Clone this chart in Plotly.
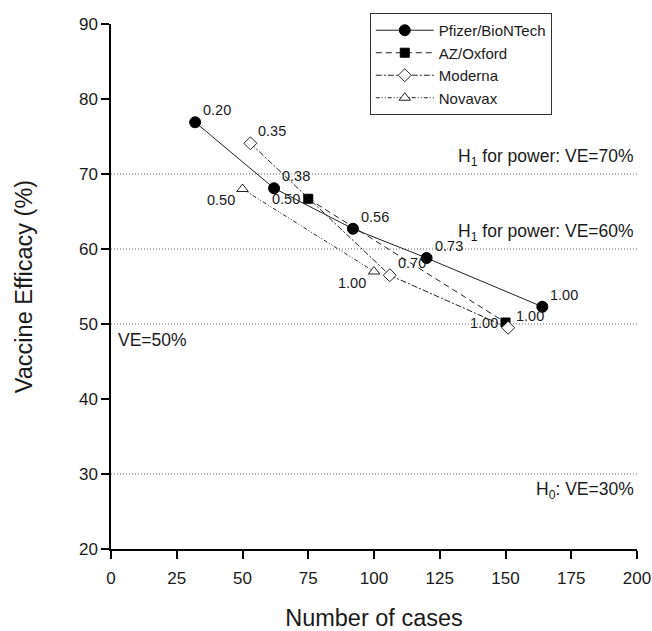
import plotly.graph_objects as go

# ---- data ----
pfizer_cases = [32, 62, 92, 120, 164]
pfizer_ve = [76.9, 68.1, 62.7, 58.8, 52.3]
pfizer_labels = ["0.20", "0.38", "0.56", "0.73", "1.00"]

az_cases = [75, 150]
az_ve = [66.7, 50.2]
az_labels = ["0.50", "1.00"]

moderna_cases = [53, 106, 151]
moderna_ve = [74.1, 56.5, 49.5]
moderna_labels = ["0.35", "0.70", "1.00"]

novavax_cases = [50, 100]
novavax_ve = [68.0, 57.0]
novavax_labels = ["0.50", "1.00"]

ref_lines = [70, 60, 50, 30]
ref_texts = ["H<sub>1</sub> for power: VE=70%", "H<sub>1</sub> for power: VE=60%", "VE=50%", "H<sub>0</sub>: VE=30%"]

x_ticks = [0, 25, 50, 75, 100, 125, 150, 175, 200]
y_ticks = [20, 30, 40, 50, 60, 70, 80, 90]

FONT = "Liberation Sans, Arial, sans-serif"
LINE = "#222222"
TXT = "#1a1a1a"

fig = go.Figure()

series = [
    ("Pfizer/BioNTech", pfizer_cases, pfizer_ve, "solid", dict(symbol="circle", size=11, color="black", line=dict(color="black", width=1))),
    ("AZ/Oxford", az_cases, az_ve, "6px,4px", dict(symbol="square", size=9, color="black", line=dict(color="black", width=1))),
    ("Moderna", moderna_cases, moderna_ve, "6px,2px,2px,2px", dict(symbol="diamond", size=10, color="white", line=dict(color="#222", width=1))),
    ("Novavax", novavax_cases, novavax_ve, "4px,2px,1px,2px,1px,2px", dict(symbol="triangle-up", size=10, color="white", line=dict(color="#222", width=1))),
]
for name, xs, ys, dash, mk in series:
    fig.add_trace(go.Scatter(x=xs, y=ys, name=name, mode="lines+markers",
                             line=dict(color=LINE, width=1, dash=dash), marker=mk))

annotations = []
label_sets = [
    (pfizer_cases, pfizer_ve, pfizer_labels, 22, 12),
    (az_cases, az_ve, az_labels, -22, 0),
    (moderna_cases, moderna_ve, moderna_labels, 22, 12),
    (novavax_cases, novavax_ve, novavax_labels, -22, -11),
]
for xs, ys, labs, dx, dy in label_sets:
    for x, y, t in zip(xs, ys, labs):
        annotations.append(dict(x=x, y=y, text=t, showarrow=False, xshift=dx, yshift=dy,
                                xanchor="center", yanchor="middle",
                                font=dict(family=FONT, size=14.5, color=TXT)))

shapes = []
for v in ref_lines:
    shapes.append(dict(type="line", xref="x", yref="y", x0=0, x1=200, y0=v, y1=v,
                       line=dict(color="#666", width=1, dash="1px,2px"), layer="below"))

ref_font = dict(family=FONT, size=17.5, color=TXT)
annotations.append(dict(x=199.5, y=70, text=ref_texts[0], showarrow=False, xanchor="right", yanchor="middle",
                        yshift=17, font=ref_font))
annotations.append(dict(x=199.5, y=60, text=ref_texts[1], showarrow=False, xanchor="right", yanchor="middle",
                        yshift=17, font=ref_font))
annotations.append(dict(x=2, y=50, text=ref_texts[2], showarrow=False, xanchor="left", yanchor="middle",
                        yshift=-16, font=ref_font))
annotations.append(dict(x=199.5, y=30, text=ref_texts[3], showarrow=False, xanchor="right", yanchor="middle",
                        yshift=-16, font=ref_font))

fig.update_layout(
    width=652, height=631,
    margin=dict(l=111, r=15, t=24, b=82, autoexpand=False),
    paper_bgcolor="white", plot_bgcolor="white",
    font=dict(family=FONT, color=TXT),
    showlegend=True,
    legend=dict(x=0.492, y=1.021, xanchor="left", yanchor="top",
                bgcolor="white", bordercolor="#333", borderwidth=1, itemwidth=58,
                font=dict(family=FONT, size=15, color=TXT), tracegroupgap=0),
    shapes=shapes,
    annotations=annotations,
)
fig.update_xaxes(range=[0, 200], tickvals=x_ticks, ticks="outside", ticklen=8, tickwidth=1.5,
                 tickcolor="black", showline=True, linecolor="black", linewidth=1.5,
                 showgrid=False, zeroline=False, ticklabelstandoff=5, automargin=False,
                 tickfont=dict(family=FONT, size=17, color=TXT),
                 title=dict(text="Number of cases", font=dict(family=FONT, size=23.5, color=TXT), standoff=26))
fig.update_yaxes(range=[20, 90], tickvals=y_ticks, ticks="outside", ticklen=8, tickwidth=1.5,
                 tickcolor="black", showline=True, linecolor="black", linewidth=1.5,
                 showgrid=False, zeroline=False, automargin=False,
                 tickfont=dict(family=FONT, size=17, color=TXT),
                 title=dict(text="Vaccine Efficacy (%)", font=dict(family=FONT, size=23.5, color=TXT), standoff=40))

fig.write_html("out.html")
